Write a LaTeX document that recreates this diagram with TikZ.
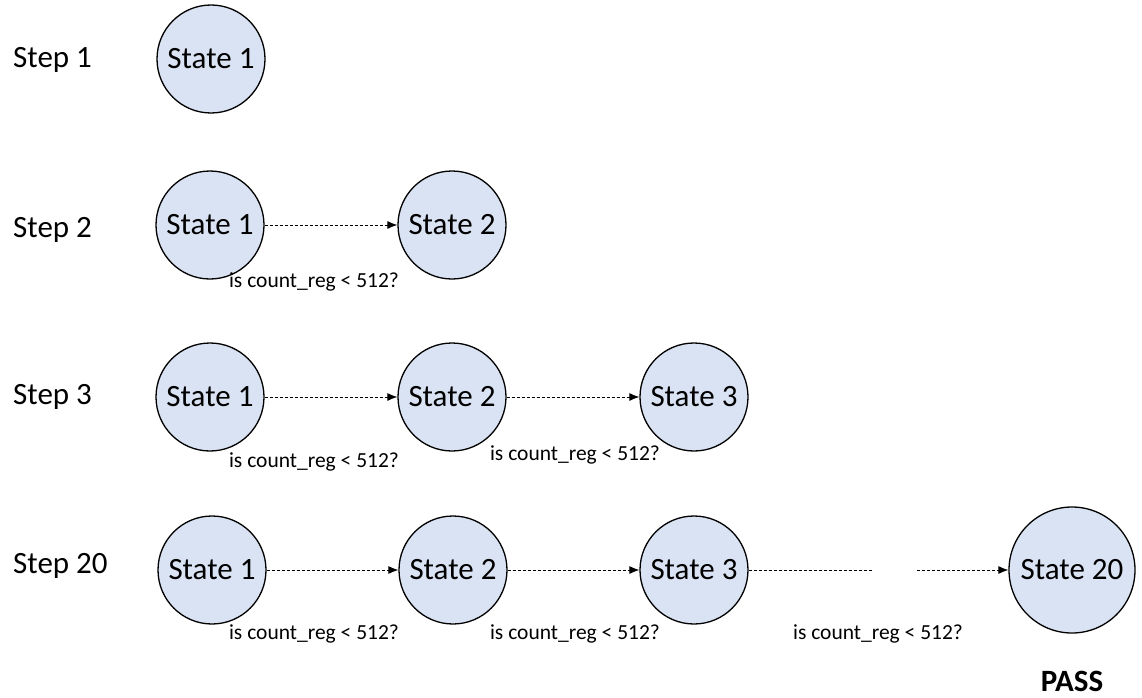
\documentclass[tikz,border=0pt]{standalone}
\usepackage{fontspec}
\setmainfont{Carlito}
\usetikzlibrary{arrows.meta}
\definecolor{statefill}{HTML}{DAE3F3}
\tikzset{
  state/.style={circle, draw=black, line width=1.3pt, fill=statefill,
    minimum size=108pt, inner sep=0pt, font=\fontsize{31}{37}\selectfont},
  bigstate/.style={state, minimum size=126pt},
  steplabel/.style={anchor=west, inner sep=0pt, font=\fontsize{31}{37}\selectfont},
  cond/.style={inner sep=0pt, font=\fontsize{21.5}{26}\selectfont},
  trans/.style={line width=0.9pt, dash pattern=on 3pt off 2pt,
    -{Latex[length=10pt,width=8pt]}},
  transopen/.style={line width=0.9pt, dash pattern=on 3pt off 2pt}
}
\begin{document}
\begin{tikzpicture}[x=1pt, y=-1pt]
\useasboundingbox (0,0) rectangle (1142,698);

% Step 1
\node[steplabel] (s1) at (13,60) {Step 1};
\node[state] (a1) at (211,59) {State 1};

% Step 2
\node[steplabel] (s2) at (13,230) {Step 2};
\node[state] (b1) at (210,225) {State 1};
\node[state] (b2) at (452,225) {State 2};
\draw[trans] (b1) -- (b2);
\node[cond] (bc1) at (314,282) {is count\_reg < 512?};

% Step 3
\node[steplabel] (s3) at (13,397) {Step 3};
\node[state] (c1) at (210,397) {State 1};
\node[state] (c2) at (452,397) {State 2};
\node[state] (c3) at (694,397) {State 3};
\draw[trans] (c1) -- (c2);
\draw[trans] (c2) -- (c3);
\node[cond] (cc1) at (314,462) {is count\_reg < 512?};
\node[cond] (cc2) at (575,455) {is count\_reg < 512?};

% Step 20
\node[steplabel] (s20) at (13,566) {Step 20};
\node[state] (d1) at (212,570) {State 1};
\node[state] (d2) at (453,570) {State 2};
\node[state] (d3) at (694,570) {State 3};
\node[bigstate] (d20) at (1072,570) {State 20};
\coordinate (gapL) at (873,570);
\coordinate (gapR) at (917,570);
\draw[trans] (d1) -- (d2);
\draw[trans] (d2) -- (d3);
\draw[transopen] (d3) -- (gapL);
\draw[trans] (gapR) -- (d20);
\node[cond] (dc1) at (314,634) {is count\_reg < 512?};
\node[cond] (dc2) at (575,634) {is count\_reg < 512?};
\node[cond] (dc3) at (878,634) {is count\_reg < 512?};
\node[font=\fontsize{31}{37}\selectfont\bfseries, inner sep=0pt, anchor=base] (pass) at (1072,691) {PASS};
\end{tikzpicture}
\end{document}
